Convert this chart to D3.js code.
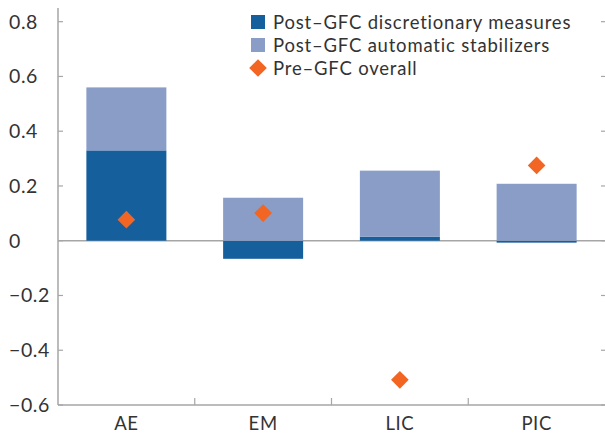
<!DOCTYPE html>
<html>
<head>
<meta charset="utf-8">
<script src="https://cdn.jsdelivr.net/npm/d3@7"></script>
<style>
  html, body { margin: 0; padding: 0; background: #fff; }
  svg text { font-family: Lato, "Open Sans", sans-serif; fill: #333; }
</style>
</head>
<body>
<svg id="chart" width="605" height="435"></svg>
<script>
// Fiscal policy response by country group
const categories = ["AE", "EM", "LIC", "PIC"];
const discretionary = [0.33, -0.066, 0.015, -0.007];
const stabilizers = [0.23, 0.157, 0.241, 0.208];
const preGFC = [0.077, 0.101, -0.508, 0.275];
const yTicks = [-0.6, -0.4, -0.2, 0, 0.2, 0.4, 0.6, 0.8];
const legendLabels = ["Post–GFC discretionary measures", "Post–GFC automatic stabilizers", "Pre–GFC overall"];

const colDisc = "#155f9d", colAuto = "#8a9dc7", colPre = "#f26522", axisCol = "#a6a6a6";

const svg = d3.select("#chart");
const plotL = 58, plotR = 605, plotT = 8, plotB = 405;

const x = d3.scaleBand().domain(categories).range([plotL, plotR]).paddingInner(0).paddingOuter(0);
const y = d3.scaleLinear().domain([-0.6, 0.85]).range([plotB, plotT]);
const barW = 80;

// Zero line (bars sit on top of it)
svg.append("line").attr("x1", plotL).attr("x2", plotR)
  .attr("y1", y(0)).attr("y2", y(0))
  .attr("stroke", axisCol).attr("stroke-width", 1.5);

// Stack: positive parts from zero upward, negative parts from zero downward
const rows = categories.map((c, i) => {
  const d = discretionary[i], a = stabilizers[i];
  const segs = [];
  let pos = 0, neg = 0;
  [[d, colDisc], [a, colAuto]].forEach(([v, col]) => {
    if (v >= 0) { segs.push({ y0: pos, y1: pos + v, col }); pos += v; }
    else { segs.push({ y0: neg + v, y1: neg, col }); neg += v; }
  });
  return { c, segs };
});

const g = svg.append("g");
rows.forEach(r => {
  g.selectAll(null).data(r.segs).enter().append("rect")
    .attr("x", x(r.c) + (x.bandwidth() - barW) / 2)
    .attr("width", barW)
    .attr("y", s => y(s.y1))
    .attr("height", s => y(s.y0) - y(s.y1))
    .attr("fill", s => s.col);
});

// Left axis line and inward ticks
svg.append("line").attr("x1", plotL).attr("x2", plotL).attr("y1", plotT).attr("y2", plotB)
  .attr("stroke", axisCol).attr("stroke-width", 1.5);
svg.selectAll(".ytl").data(yTicks).enter().append("line")
  .attr("x1", plotL).attr("x2", plotL + 5)
  .attr("y1", d => y(d)).attr("y2", d => y(d))
  .attr("stroke", axisCol).attr("stroke-width", 1.2);
svg.selectAll(".ytr").data(yTicks).enter().append("line")
  .attr("x1", plotR - 4).attr("x2", plotR)
  .attr("y1", d => y(d)).attr("y2", d => y(d))
  .attr("stroke", axisCol).attr("stroke-width", 1.2);

// Tick labels, left aligned
svg.selectAll(".ylab").data(yTicks).enter().append("text")
  .attr("x", 9).attr("y", d => y(d) + 7)
  .attr("font-size", 19.5).attr("letter-spacing", 0.6)
  .text(d => d === 0 ? "0" : d3.format(".1f")(d).replace("-", "−"));

// Bottom axis line and category dividers
svg.append("line").attr("x1", plotL).attr("x2", plotR).attr("y1", plotB).attr("y2", plotB)
  .attr("stroke", axisCol).attr("stroke-width", 1.5);
svg.selectAll(".xt").data(categories.slice(1)).enter().append("line")
  .attr("x1", d => x(d)).attr("x2", d => x(d))
  .attr("y1", plotB).attr("y2", plotB - 7)
  .attr("stroke", axisCol).attr("stroke-width", 1.2);
svg.selectAll(".xlab").data(categories).enter().append("text")
  .attr("x", d => x(d) + x.bandwidth() / 2).attr("y", 430)
  .attr("text-anchor", "middle").attr("font-size", 18.5).attr("letter-spacing", 0.6)
  .text(d => d);

// Pre-GFC markers
const dsz = 12.5;
svg.selectAll(".dia").data(preGFC).enter().append("rect")
  .attr("width", dsz).attr("height", dsz)
  .attr("x", -dsz / 2).attr("y", -dsz / 2)
  .attr("transform", (d, i) => `translate(${x(categories[i]) + x.bandwidth() / 2},${y(d)}) rotate(45)`)
  .attr("fill", colPre);

// Legend
const lg = svg.append("g").attr("transform", "translate(251,0)");
[colDisc, colAuto].forEach((col, i) => {
  lg.append("rect").attr("x", 0).attr("y", 15 + i * 23).attr("width", 14).attr("height", 14).attr("fill", col);
});
lg.append("rect").attr("width", 12.5).attr("height", 12.5).attr("x", -6.25).attr("y", -6.25)
  .attr("transform", "translate(7,68) rotate(45)").attr("fill", colPre);
legendLabels.forEach((t, i) => {
  lg.append("text").attr("x", 22).attr("y", 28.5 + i * 23).attr("font-size", 18.5)
    .attr("letter-spacing", 0.8).text(t);
});
</script>
</body>
</html>
